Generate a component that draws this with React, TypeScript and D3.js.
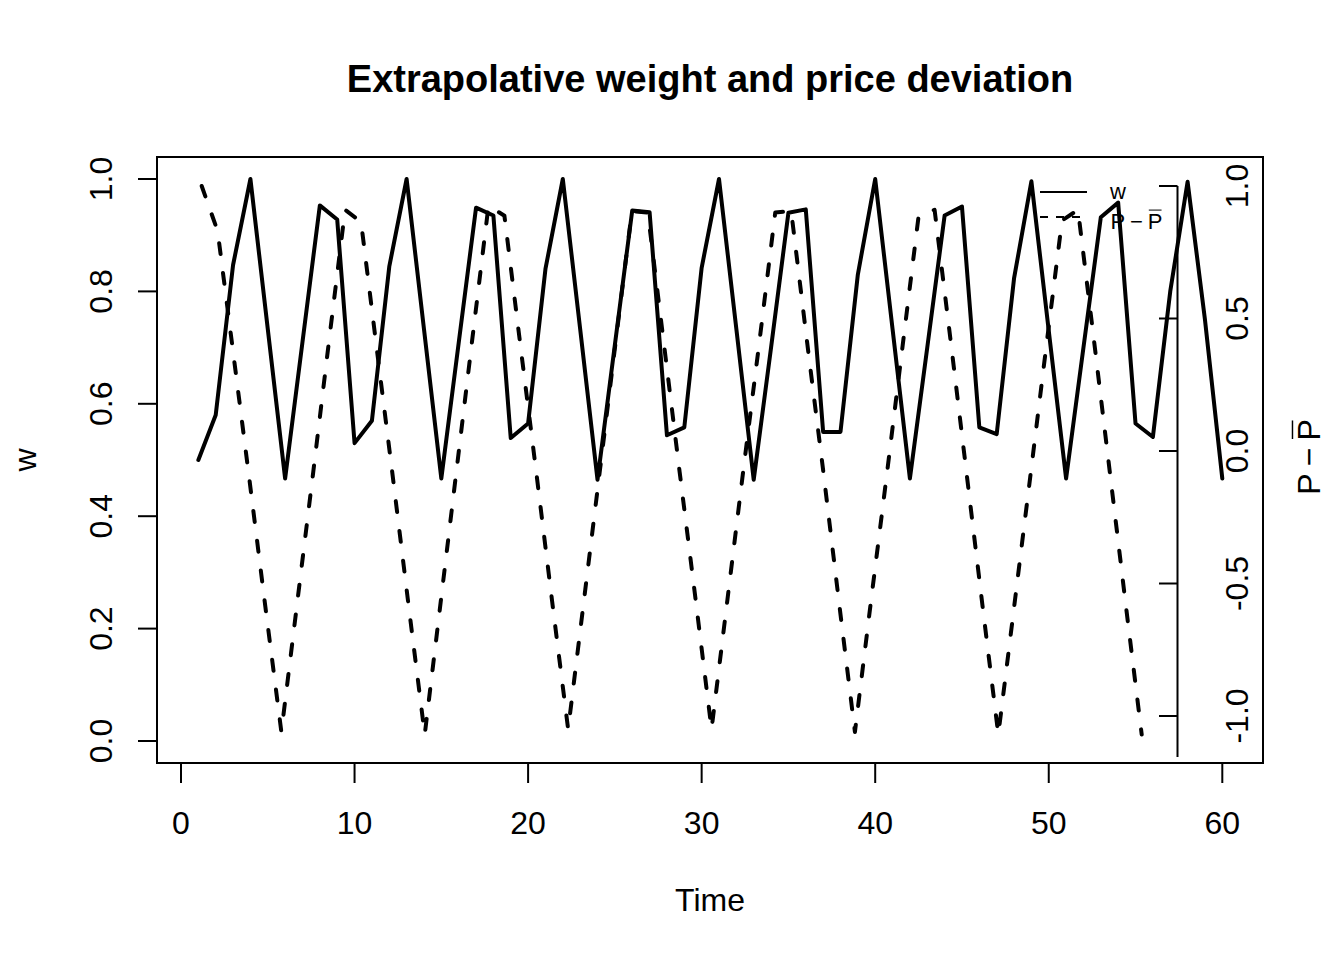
import * as d3 from "d3";

// time index shared by both series
const time = d3.range(1, 61);

// extrapolative weight w (left axis)
const weight = [
  0.5, 0.58, 0.847, 1.0, 0.733, 0.467, 0.71, 0.953, 0.928, 0.53,
  0.57, 0.844, 1.0, 0.733, 0.467, 0.708, 0.949, 0.935, 0.539, 0.565,
  0.84, 1.0, 0.733, 0.465, 0.705, 0.944, 0.941, 0.544, 0.558, 0.842,
  1.0, 0.733, 0.465, 0.7, 0.94, 0.946, 0.55, 0.55, 0.83, 1.0,
  0.733, 0.467, 0.7, 0.935, 0.951, 0.558, 0.546, 0.823, 0.996, 0.73,
  0.467, 0.7, 0.932, 0.958, 0.565, 0.541, 0.8, 0.995, 0.75, 0.467,
];

// price deviation P - Pbar (right axis)
const priceDev = [
  1.0, 0.83, 0.36, -0.11, -0.59, -1.06, -0.57, -0.08, 0.42, 0.91,
  0.865, 0.38, -0.1, -0.59, -1.07, -0.57, -0.07, 0.43, 0.925, 0.888,
  0.4, -0.08, -0.57, -1.05, -0.56, -0.07, 0.42, 0.905, 0.9, 0.41,
  -0.08, -0.56, -1.05, -0.56, -0.07, 0.41, 0.9, 0.905, 0.41, -0.07,
  -0.57, -1.06, -0.57, -0.09, 0.4, 0.888, 0.91, 0.42, -0.08, -0.58,
  -1.07, -0.585, -0.1, 0.39, 0.87, 0.91, 0.42, -0.08, -0.58, -1.07,
];

const xTicks = [0, 10, 20, 30, 40, 50, 60];
const leftTicks = [0, 0.2, 0.4, 0.6, 0.8, 1.0];
const rightTicks = [-1, -0.5, 0, 0.5, 1];
const rightTickLabels = ["-1.0", "-0.5", "0.0", "0.5", "1.0"];

const FONT = "'Liberation Sans', Arial, sans-serif";
const W = 1344;
const H = 960;

// plot box
const box = { left: 157, right: 1263, top: 157, bottom: 763 };

// the dashed series sits on a second, narrower plot region
const x = d3.scaleLinear().domain([0, 60]).range([181, 1222.3]);
const x2 = d3.scaleLinear().domain([1, 60]).range([201.7, 1141.7]);
const yLeft = d3.scaleLinear().domain([0, 1]).range([741, 179]);
const yRight = d3.scaleLinear().domain([-1, 1]).range([716, 186]);
const rightAxisX = 1177.5;

function PMinusPbar({ size }: { size: number }) {
  // plotmath-like P - bar(P), laid out from local x = 0 on the baseline
  const pW = 0.667 * size;
  const gap = 0.22 * size;
  const mW = 0.584 * size;
  const p2 = pW + gap + mW + gap;
  return (
    <g>
      <text x={0} y={0} fontSize={size}>P</text>
      <text x={pW + gap} y={0} fontSize={size}>−</text>
      <text x={p2} y={0} fontSize={size}>P</text>
      <line
        x1={p2 + 0.05 * size}
        x2={p2 + 0.63 * size}
        y1={-0.86 * size}
        y2={-0.86 * size}
        stroke="#000"
        strokeWidth={Math.max(1, size / 22)}
      />
    </g>
  );
}

export default function App() {
  const wLine = d3
    .line<number>()
    .x((_, i) => x(time[i]))
    .y((d) => yLeft(d));
  const pLine = d3
    .line<number>()
    .x((_, i) => x2(time[i]))
    .y((d) => yRight(d));

  const pWidth = (0.667 * 2 + 0.22 * 2 + 0.584) * 32;

  return (
    <svg
      width={W}
      height={H}
      style={{ position: "absolute", left: 0, top: 0, background: "#fff" }}
      fontFamily={FONT}
    >
      <rect width={W} height={H} fill="#fff" />

      {/* title */}
      <text
        x={(box.left + box.right) / 2}
        y={92}
        textAnchor="middle"
        fontSize={38}
        fontWeight="bold"
      >
        Extrapolative weight and price deviation
      </text>

      {/* series */}
      <path d={wLine(weight) ?? ""} fill="none" stroke="#000" strokeWidth={4} strokeLinejoin="round" strokeLinecap="round" />
      <path
        d={pLine(priceDev) ?? ""}
        fill="none"
        stroke="#000"
        strokeWidth={4}
        strokeDasharray="11 19"
        strokeLinejoin="round"
        strokeLinecap="round"
      />

      {/* box */}
      <rect
        x={box.left}
        y={box.top}
        width={box.right - box.left}
        height={box.bottom - box.top}
        fill="none"
        stroke="#000"
        strokeWidth={2}
      />

      {/* bottom axis */}
      <line x1={x(0)} x2={x(60)} y1={box.bottom} y2={box.bottom} stroke="#000" strokeWidth={2} />
      {xTicks.map((t) => (
        <g key={t}>
          <line x1={x(t)} x2={x(t)} y1={box.bottom} y2={box.bottom + 20} stroke="#000" strokeWidth={2} />
          <text x={x(t)} y={834} textAnchor="middle" fontSize={32}>
            {t}
          </text>
        </g>
      ))}
      <text x={(box.left + box.right) / 2} y={911} textAnchor="middle" fontSize={32}>
        Time
      </text>

      {/* left axis */}
      {leftTicks.map((v) => (
        <g key={v}>
          <line x1={box.left - 19} x2={box.left} y1={yLeft(v)} y2={yLeft(v)} stroke="#000" strokeWidth={2} />
          <text
            transform={`translate(112,${yLeft(v)}) rotate(-90)`}
            textAnchor="middle"
            fontSize={32}
          >
            {d3.format(".1f")(v)}
          </text>
        </g>
      ))}
      <text transform={`translate(36,${(box.top + box.bottom) / 2}) rotate(-90)`} textAnchor="middle" fontSize={32}>
        w
      </text>

      {/* right axis for the price deviation */}
      <line x1={rightAxisX} x2={rightAxisX} y1={yRight(1)} y2={757} stroke="#000" strokeWidth={2} />
      {rightTicks.map((v, i) => (
        <g key={v}>
          <line x1={rightAxisX - 18.5} x2={rightAxisX} y1={yRight(v)} y2={yRight(v)} stroke="#000" strokeWidth={2} />
          <text
            transform={`translate(1248,${yRight(v)}) rotate(-90)`}
            textAnchor="middle"
            fontSize={32}
          >
            {rightTickLabels[i]}
          </text>
        </g>
      ))}
      <g transform={`translate(1320,${457 + pWidth / 2}) rotate(-90)`}>
        <PMinusPbar size={32} />
      </g>

      {/* legend */}
      <g>
        <line x1={1040} x2={1087} y1={192} y2={192} stroke="#000" strokeWidth={2} />
        <text x={1110} y={199} fontSize={22}>
          w
        </text>
        <line x1={1040} x2={1087} y1={217} y2={217} stroke="#000" strokeWidth={2} strokeDasharray="8 8" />
        <g transform="translate(1110.5,229)">
          <PMinusPbar size={22} />
        </g>
      </g>
    </svg>
  );
}
